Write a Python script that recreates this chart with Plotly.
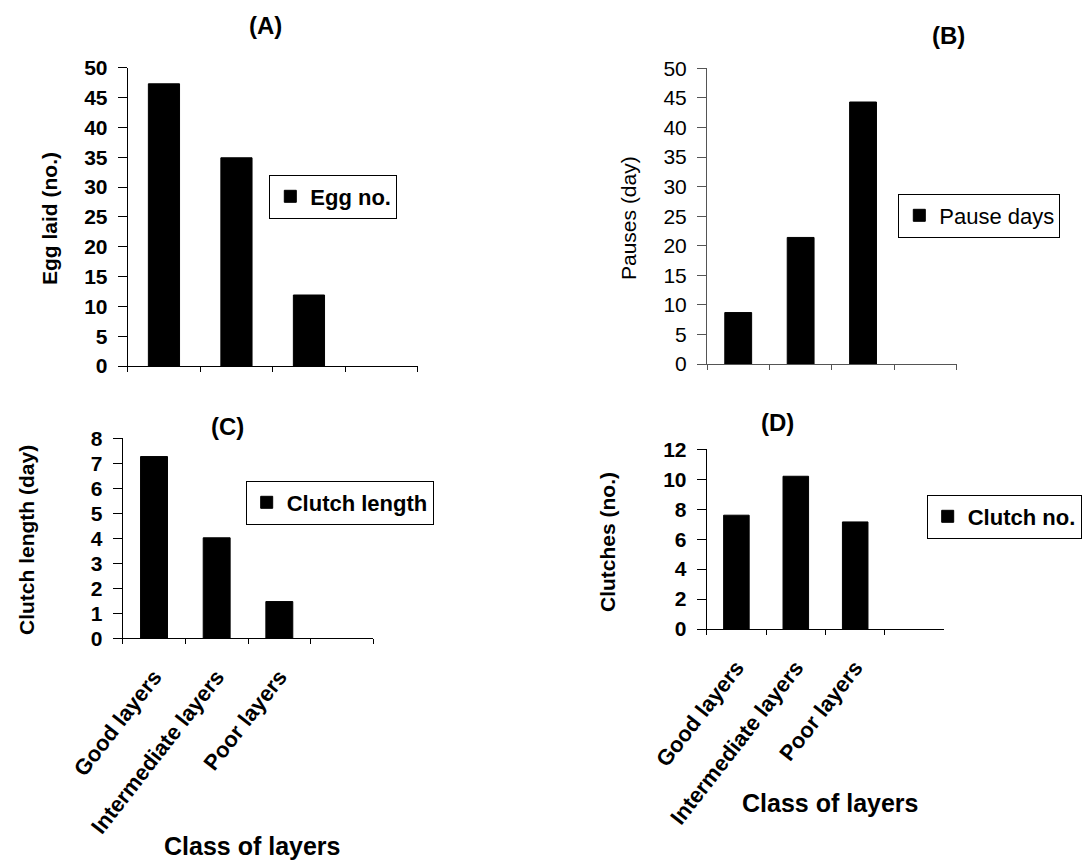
import plotly.graph_objects as go

W, H = 1089, 860

categories = ["Good layers", "Intermediate layers", "Poor layers", " "]
bar_categories = categories[:3]

egg_no = [47.3, 34.9, 11.9]
pause_days = [8.7, 21.4, 44.3]
clutch_length = [7.27, 4.02, 1.47]
clutch_no = [7.6, 10.2, 7.15]

panel_titles = ["(A)", "(B)", "(C)", "(D)"]
legend_names = ["Egg no.", "Pause days", "Clutch length", "Clutch no."]
y_titles = ["Egg laid (no.)", "Pauses (day)", "Clutch length (day)", "Clutches (no.)"]
x_title = "Class of layers"
y_ranges = [[0, 50], [0, 50], [0, 8], [0, 12]]
y_dticks = [5, 5, 1, 2]

FONT = "Liberation Sans, Arial, sans-serif"


def px(x):
    return x / W


def py(y):
    return 1 - y / H


# panel geometry in pixels: (left, right, top, bottom)
geo = [
    (127.7, 417.7, 67.7, 366.0),
    (707.0, 956.7, 68.3, 364.0),
    (122.7, 373.3, 438.3, 638.3),
    (706.7, 944.3, 449.3, 629.0),
]
bold = [True, False, True, True]
axis_col = ["#000000", "#555555", "#000000", "#000000"]

series = [egg_no, pause_days, clutch_length, clutch_no]

fig = go.Figure()
layout = dict(
    template="none",
    width=W, height=H,
    margin=dict(l=0, r=0, t=0, b=0, autoexpand=False),
    paper_bgcolor="white", plot_bgcolor="white",
    bargap=0.57,
    font=dict(family=FONT, color="black"),
)

legend_pos = [(269.3, 174.5), (898.3, 193.5), (245.7, 480.5), (926.7, 494.5)]

for i in range(4):
    sfx = "" if i == 0 else str(i + 1)
    lg = "legend" if i == 0 else f"legend{i + 1}"
    fig.add_trace(go.Bar(
        x=bar_categories, y=series[i], name=legend_names[i],
        marker=dict(color="black", line=dict(color="black", width=1)),
        xaxis="x" + sfx, yaxis="y" + sfx, legend=lg, showlegend=True,
    ))
    l, r, t, b = geo[i]
    w = "bold" if bold[i] else "normal"
    show_lbl = i >= 2
    layout["xaxis" + sfx] = dict(
        domain=[px(l), px(r)], anchor="y" + sfx, automargin=False,
        type="category", categoryorder="array", categoryarray=categories,
        range=[-0.5, 3.5], tickson="boundaries",
        showline=True, linecolor=axis_col[i], linewidth=1,
        ticks="outside", ticklen=5, tickcolor=axis_col[i], tickwidth=1,
        showgrid=False, zeroline=False,
        showticklabels=show_lbl, tickangle=-52,
        ticklabelstandoff=16,
        tickfont=dict(family=FONT, size=22, weight="bold", color="black"),
        fixedrange=True,
    )
    layout["yaxis" + sfx] = dict(
        domain=[py(b), py(t)], anchor="x" + sfx, automargin=False,
        range=y_ranges[i], dtick=y_dticks[i], tick0=0,
        showline=True, linecolor=axis_col[i], linewidth=1,
        ticks="outside", ticklen=9, tickcolor=axis_col[i], tickwidth=1,
        showgrid=False, zeroline=False,
        ticklabelstandoff=6,
        tickfont=dict(family=FONT, size=21, weight=w, color="black"),
        fixedrange=True,
    )
    lx, ly = legend_pos[i]
    layout[lg] = dict(
        x=px(lx), y=py(ly), xanchor="left", yanchor="top",
        bgcolor="white", bordercolor="black", borderwidth=1,
        font=dict(family=FONT, size=22, weight=w, color="black"),
        itemclick=False, itemdoubleclick=False,
    )

annotations = []
# panel titles
for txt, (x, y) in zip(panel_titles, [(265, 26), (948, 36), (227, 426), (777, 423)]):
    annotations.append(dict(text=txt, x=px(x), y=py(y), xref="paper", yref="paper",
                            xanchor="center", yanchor="middle", showarrow=False,
                            font=dict(family=FONT, size=24, weight="bold", color="black")))
# y titles
for i, (x, y) in enumerate([(50, 218), (629, 218), (26, 540), (607, 542)]):
    annotations.append(dict(text=y_titles[i], x=px(x), y=py(y), xref="paper", yref="paper",
                            xanchor="center", yanchor="middle", showarrow=False, textangle=-90,
                            font=dict(family=FONT, size=21,
                                      weight="bold" if bold[i] else "normal", color="black")))
# x titles
for (x, y) in [(252, 846), (830, 803)]:
    annotations.append(dict(text=x_title, x=px(x), y=py(y), xref="paper", yref="paper",
                            xanchor="center", yanchor="middle", showarrow=False,
                            font=dict(family=FONT, size=25, weight="bold", color="black")))

layout["annotations"] = annotations
fig.update_layout(**layout)
fig.write_html("out.html")
